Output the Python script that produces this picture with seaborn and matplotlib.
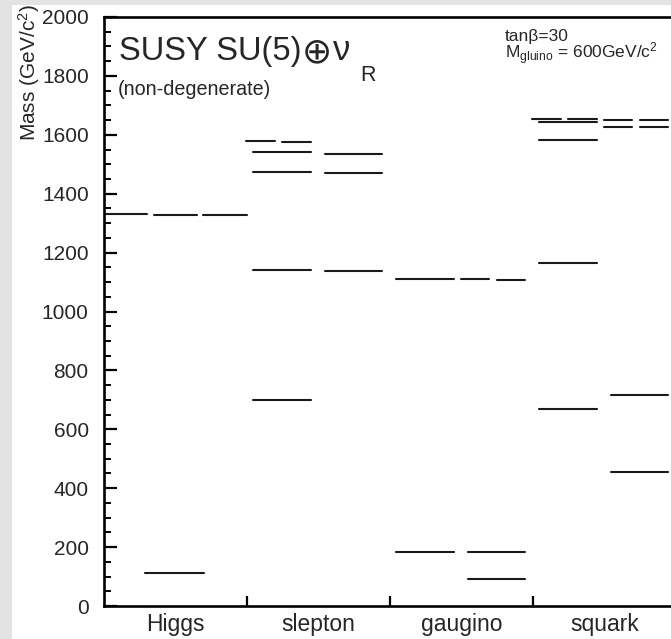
import matplotlib
matplotlib.use("Agg")
import matplotlib.pyplot as plt
from matplotlib.patches import Rectangle
from matplotlib.ticker import MultipleLocator
import numpy as np
import pandas as pd
import seaborn as sns

# Mass levels (GeV/c^2) per particle family, with the column slot each level sits in
categories = ["Higgs", "slepton", "gaugino", "squark"]

higgs_slots = ["C", "T1", "T2", "T3"]
higgs_mass = [113, 1331, 1326, 1326]

slepton_slots = ["L1", "L2", "L", "L", "L", "L", "R", "R", "R"]
slepton_mass = [1579, 1575, 1540, 1474, 1141, 699, 1536, 1470, 1138]

gaugino_slots = ["L", "L", "R1", "R2", "R", "R"]
gaugino_mass = [1111, 185, 1109, 1106, 185, 92]

squark_slots = ["L1", "L2", "L", "L", "L", "L", "R1", "R1", "R2", "R2", "R", "R"]
squark_mass = [1652, 1652, 1643, 1584, 1164, 668, 1650, 1626, 1650, 1626, 717, 456]

yticks = [0, 200, 400, 600, 800, 1000, 1200, 1400, 1600, 1800, 2000]

# horizontal extent of each slot inside a family's unit-wide band
slot_span = {
    "L": (0.045, 0.447), "R": (0.545, 0.945), "C": (0.29, 0.70),
    "L1": (-0.005, 0.195), "L2": (0.245, 0.447),
    "R1": (0.495, 0.695), "R2": (0.745, 0.945),
    "T1": (0.0, 0.30), "T2": (0.35, 0.65), "T3": (0.69, 1.0),
}

families = [
    (higgs_slots, higgs_mass),
    (slepton_slots, slepton_mass),
    (gaugino_slots, gaugino_mass),
    (squark_slots, squark_mass),
]

rows = []
seg = 0
for i, (slots, masses) in enumerate(families):
    for s, m in zip(slots, masses):
        x0, x1 = slot_span[s]
        rows.append({"x": i + x0, "mass": m, "seg": seg})
        rows.append({"x": i + x1, "mass": m, "seg": seg})
        seg += 1
levels = pd.DataFrame(rows)

sns.set_theme(style="white")
plt.rcParams["font.family"] = ["Liberation Sans", "DejaVu Sans"]
plt.rcParams["mathtext.fontset"] = "custom"
plt.rcParams["mathtext.rm"] = "Liberation Sans"
plt.rcParams["mathtext.it"] = "Liberation Sans"
plt.rcParams["mathtext.bf"] = "Liberation Sans:bold"

W, H = 671, 639
fig = plt.figure(figsize=(W / 100, H / 100), dpi=100, facecolor="#e3e3e3")
fig.patches.append(Rectangle((12 / W, 0), 1, 1 - 5 / H, transform=fig.transFigure,
                             facecolor="white", edgecolor="none", zorder=-10))

ax_left, ax_right, ax_top, ax_bottom = 104, 676, 17, 606
ax = fig.add_axes([ax_left / W, (H - ax_bottom) / H,
                   (ax_right - ax_left) / W, (ax_bottom - ax_top) / H])
ax.set_facecolor("white")

sns.lineplot(data=levels, x="x", y="mass", units="seg", estimator=None,
             color="#1a1a1a", linewidth=1.5, legend=False, ax=ax)

ax.set_xlim(0, len(categories))
ax.set_ylim(yticks[0], yticks[-1])

for side, sp in ax.spines.items():
    sp.set_visible(True)
    sp.set_color("black")
    sp.set_linewidth(1.9)

ax.set_yticks(yticks)
ax.set_yticklabels([str(v) for v in yticks])
ax.yaxis.set_minor_locator(MultipleLocator(50))
ax.tick_params(axis="y", which="major", direction="in", length=9, width=1.6,
               labelsize=15, pad=11, left=True, right=False, color="black")
ax.tick_params(axis="y", which="minor", direction="in", length=5, width=1.4,
               left=True, right=False, color="black")

ax.set_xticks([1, 2, 3])
ax.set_xticklabels(["", "", ""])
ax.set_xticks(np.arange(len(categories)) + 0.5, labels=categories, minor=True)
ax.tick_params(axis="x", which="major", direction="in", length=7.5, width=1.6,
               bottom=True, top=False, color="black")
ax.tick_params(axis="x", which="minor", length=0, labelsize=16.5, pad=5)

ax.set_xlabel("")
ax.set_ylabel("Mass (GeV/c$^2$)", fontsize=15, loc="top")
ax.yaxis.set_label_coords((42 - ax_left) / (ax_right - ax_left),
                          (ax_bottom - 4) / (ax_bottom - ax_top))

def axpos(px, py):
    return ((px - ax_left) / (ax_right - ax_left), (ax_bottom - py) / (ax_bottom - ax_top))

# model label: "SUSY SU(5)" then a circled plus, nu and a subscript R, chained left to right
base_y = axpos(0, 60)[1]
t1 = ax.text(*axpos(119, 60), "SUSY SU(5)", transform=ax.transAxes,
             fontsize=23.5, va="baseline", ha="left")
t2 = ax.annotate("⊕", xy=(1, axpos(0, 62)[1]), xycoords=(t1, "axes fraction"),
                 xytext=(0.5, 0), textcoords="offset points", fontsize=26,
                 va="baseline", ha="left", family=["DejaVu Sans"])
t3 = ax.annotate("ν", xy=(1, base_y), xycoords=(t2, "axes fraction"),
                 xytext=(0.5, 0), textcoords="offset points", fontsize=25,
                 va="baseline", ha="left", family=["Liberation Sans", "DejaVu Sans"])
ax.annotate("R", xy=(1, axpos(0, 81)[1]), xycoords=(t3, "axes fraction"),
            xytext=(7, 0), textcoords="offset points",
            fontsize=15.5, va="baseline", ha="left")
ax.text(*axpos(118, 95), "(non-degenerate)", transform=ax.transAxes,
        fontsize=14.2, va="baseline", ha="left")
ax.text(*axpos(505, 29), "tanβ=30\nM$_{\\rm gluino}$ = 600GeV/c$^2$", transform=ax.transAxes,
        fontsize=12.5, va="top", ha="left", linespacing=0.8)

fig.savefig("out.png", dpi=100, facecolor=fig.get_facecolor())
